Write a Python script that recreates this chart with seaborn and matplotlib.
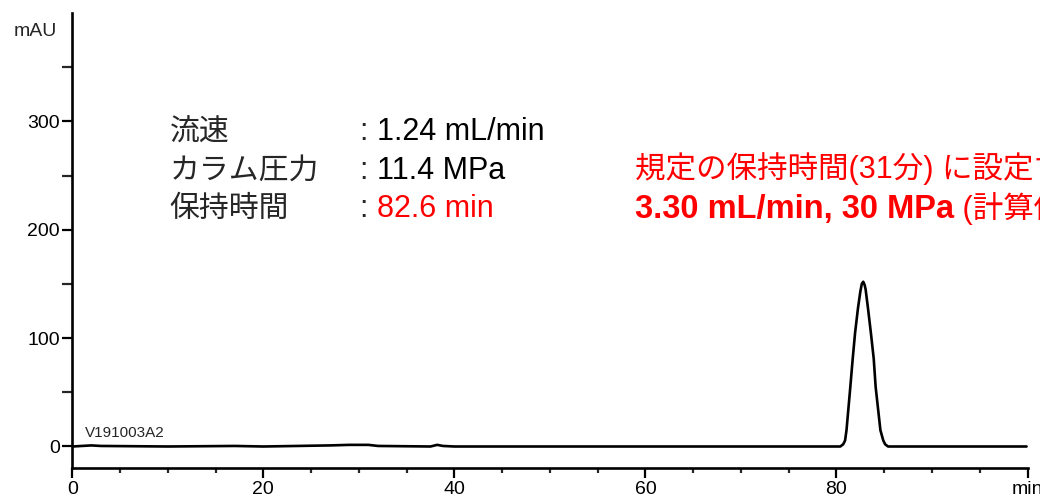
import numpy as np
import pandas as pd
import matplotlib
matplotlib.use('Agg')
import matplotlib.pyplot as plt
import seaborn as sns

# chromatogram (retention time in min, absorbance in mAU)
baseline_time = [0.0, 1.0, 2.0, 3.0, 10.0, 17.0, 20.0, 27.0, 29.0, 31.0, 32.0, 37.5, 38.2, 38.8, 40.0, 60.0, 80.0]
baseline_mau = [0.0, 0.5, 1.0, 0.5, 0.0, 0.5, 0.0, 1.0, 1.5, 1.5, 0.5, 0.0, 1.5, 0.5, 0.0, 0.0, 0.0]
peak_time = [80.4, 80.7, 80.9, 81.05, 81.25, 81.45, 81.7, 81.95, 82.25, 82.5, 82.65, 82.8, 82.95,
             83.05, 83.3, 83.6, 83.9, 84.1, 84.35, 84.6, 84.9, 85.1, 85.4, 90.0, 99.9]
peak_mau = [0.0, 2.0, 5.5, 15.0, 35.0, 55.0, 81.0, 105.0, 127.5, 143.0, 150.0, 152.0, 149.0,
            145.0, 127.5, 105.0, 81.0, 55.0, 35.0, 15.0, 5.5, 2.0, 0.0, 0.0, 0.0]

x_ticks = [0, 20, 40, 60, 80, 100]
x_tick_labels = ['0', '20', '40', '60', '80', 'min']
y_ticks = [0, 100, 200, 300]

cond_names = ['流速', 'カラム圧力', '保持時間']
cond_values = ['1.24 mL/min', '11.4 MPa', '82.6 min']
cond_colors = ['black', 'black', 'red']
note_line1 = '規定の保持時間(31分) に設定すると'
note_line2_bold = '3.30 mL/min, 30 MPa'
note_line2_rest = ' (計算値)'
sample_id = 'V191003A2'

df = pd.DataFrame({'time': baseline_time + peak_time, 'mau': baseline_mau + peak_mau})

sns.set_style('ticks')
plt.rcParams['font.family'] = ['Liberation Sans', 'Noto Sans CJK JP', 'DejaVu Sans']

fig = plt.figure(figsize=(10.4, 4.97), dpi=100)
ax = fig.add_axes([0.0695, 0.058, 0.9185, 0.916])

sns.lineplot(data=df, x='time', y='mau', color='black', linewidth=1.9, ax=ax)

ax.set_xlim(0, 100)
ax.set_ylim(-20, 400)
ax.set_xticks(x_ticks)
ax.set_xticklabels(x_tick_labels)
ax.set_yticks(y_ticks)
ax.set_xticks(np.arange(0, 101, 5), minor=True)
ax.set_yticks([50, 150, 250, 350], minor=True)
ax.set_xlabel('')
ax.set_ylabel('')
sns.despine(ax=ax)
for side in ['left', 'bottom']:
    ax.spines[side].set_linewidth(1.9)
    ax.spines[side].set_color('black')
ax.tick_params(axis='both', which='major', length=7, width=1.6, labelsize=14, colors='black', pad=2)
ax.tick_params(axis='y', which='minor', length=7, width=1.6)
ax.tick_params(axis='x', which='minor', length=3.5, width=1.6)

ax.text(-0.016, 0.96, 'mAU', transform=ax.transAxes, ha='right', va='center', fontsize=14)
ax.text(1.35, 12.5, sample_id, fontsize=11, ha='left', va='center')

# conditions block
y_rows = [289.8, 254.5, 219.5]
for name, val, col, yy in zip(cond_names, cond_values, cond_colors, y_rows):
    ax.text(10.2, yy, name, fontsize=21.5, ha='left', va='center')
    lbl = ax.text(30.1, yy, ': ', fontsize=22, ha='left', va='center')
    ax.annotate(val, xy=(1, 0), xycoords=lbl, fontsize=22, ha='left', va='bottom', color=col)

ax.text(58.9, 256.5, note_line1, fontsize=22, color='red', ha='left', va='center', clip_on=False)
t = ax.text(58.9, 219, note_line2_bold, fontsize=23.5, color='red', fontweight='bold',
            ha='left', va='center', clip_on=False)
ax.annotate(note_line2_rest, xy=(1, 0), xycoords=t, fontsize=22, color='red',
            ha='left', va='bottom')

fig.savefig('out.png', dpi=100)
